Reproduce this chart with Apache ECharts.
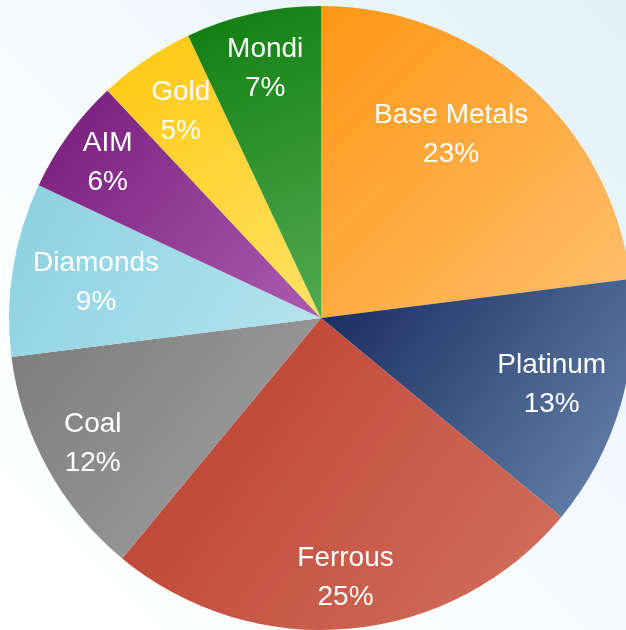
<!DOCTYPE html>
<html>
<head>
<meta charset="utf-8">
<script src="https://cdn.jsdelivr.net/npm/echarts@6/dist/echarts.min.js"></script>
<style>
  html, body { margin: 0; padding: 0; }
  #chart { width: 626px; height: 630px; }
</style>
</head>
<body>
<div id="chart"></div>
<script>
// Portfolio split by business unit, clockwise from 12 o'clock
const categories = ['Base Metals', 'Platinum', 'Ferrous', 'Coal', 'Diamonds', 'AIM', 'Gold', 'Mondi'];
const shares = [23, 13, 25, 12, 9, 6, 5, 7];

// Slice colours: darker stop (top-left) and lighter stop (bottom-right)
const darkStops  = ['#ff9714', '#16295c', '#bb3b2c', '#7c7c7c', '#8ad1e2', '#761a7c', '#ffc80f', '#0f7d0f'];
const lightStops = ['#ffc06e', '#6a88b0', '#d2725f', '#a3a3a3', '#b6e4ee', '#ab5cad', '#ffe264', '#52aa50'];

// Label placement: distance from centre as a fraction of the radius, plus angular nudge (deg)
const labelDist = [0.72, 0.77, 0.835, 0.835, 0.73, 0.845, 0.80, 0.82];
const labelTurn = [-6, 0, 0, 0, 0, 0, 0, 0];

const CX = 321, CY = 318, R = 312;

const total = shares.reduce((a, b) => a + b, 0);
const midAngles = [];
let acc = 0;
shares.forEach(v => {
  midAngles.push((acc + v / 2) / total * 360);
  acc += v;
});

const data = categories.map((name, i) => ({
  name,
  value: shares[i],
  itemStyle: {
    color: {
      type: 'linear', x: 0, y: 0, x2: 1, y2: 1,
      colorStops: [
        { offset: 0, color: darkStops[i] },
        { offset: 1, color: lightStops[i] }
      ]
    }
  }
}));

const chart = echarts.init(document.getElementById('chart'), null, { renderer: 'canvas' });
chart.setOption({
  animation: false,
  backgroundColor: {
    type: 'linear', x: 0, y: 1, x2: 1, y2: 0,
    colorStops: [
      { offset: 0, color: '#ffffff' },
      { offset: 0.45, color: '#f9fcfd' },
      { offset: 1, color: '#e0f1f8' }
    ]
  },
  series: [{
    type: 'pie',
    center: [CX, CY],
    radius: [0, R],
    startAngle: 90,
    clockwise: true,
    avoidLabelOverlap: false,
    itemStyle: { borderWidth: 0 },
    emphasis: { disabled: true },
    label: {
      show: true,
      position: 'inside',
      color: '#ffffff',
      fontFamily: 'Liberation Sans, Arial, sans-serif',
      fontSize: 28,
      lineHeight: 39,
      align: 'center',
      verticalAlign: 'middle',
      formatter: p => p.name + '\n' + p.value + '%'
    },
    labelLine: { show: false },
    labelLayout: params => {
      const i = params.dataIndex;
      const a = (midAngles[i] + labelTurn[i]) * Math.PI / 180;
      const d = labelDist[i] * R;
      return {
        x: CX + Math.sin(a) * d,
        y: CY - Math.cos(a) * d,
        align: 'center',
        verticalAlign: 'middle'
      };
    },
    data
  }]
});
</script>
</body>
</html>
